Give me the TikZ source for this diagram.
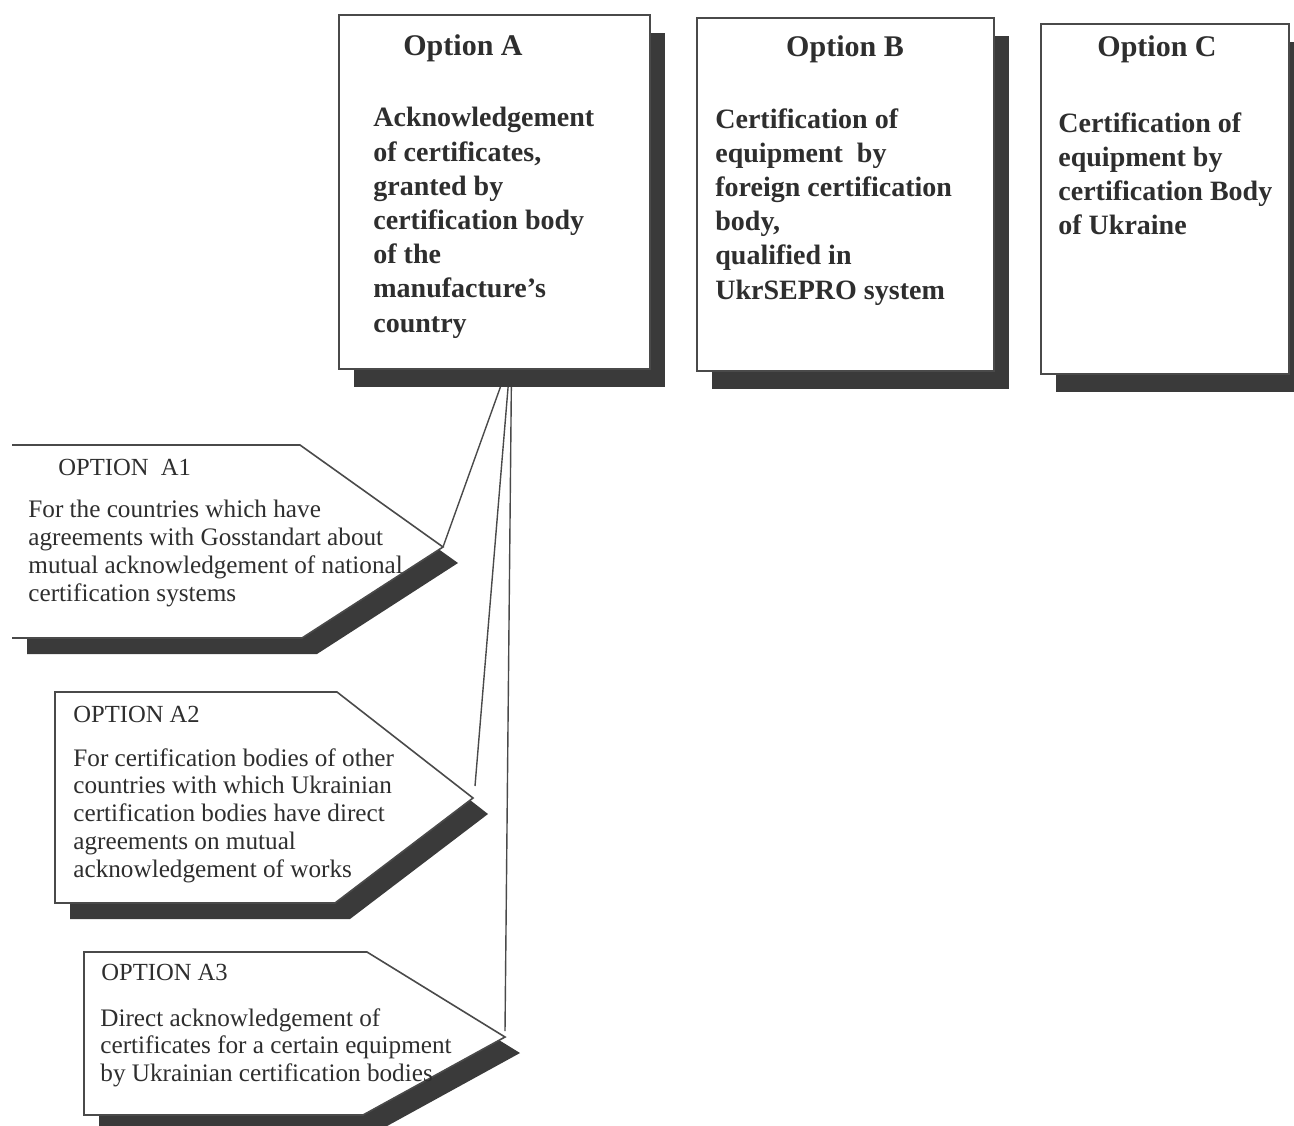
\documentclass[tikz,border=0pt]{standalone}
\usepackage{fontspec}
\setmainfont{Liberation Serif}
\usetikzlibrary{shadows,calc,backgrounds}
\definecolor{ink}{HTML}{2E2E2E}
\definecolor{edge}{HTML}{4A4A4A}
\definecolor{shade}{HTML}{3A3A3A}
\tikzset{
  optbox/.style={draw=edge, line width=1pt, fill=white, anchor=north west, inner sep=0pt},
  boxshadow/.style={drop shadow={shadow xshift=7.5pt, shadow yshift=-9pt, fill=shade, opacity=1}},
  penshadow/.style={drop shadow={shadow xshift=7.5pt, shadow yshift=-8pt, fill=shade, opacity=1}},
  pentedge/.style={draw=edge, line width=0.8pt},
  link/.style={draw=edge, line width=0.7pt},
  boxtitle/.style={text=ink, font=\fontsize{15}{18}\selectfont\bfseries, inner sep=0pt},
  boxbody/.style={text=ink, font=\fontsize{14}{17.1}\selectfont\bfseries, align=left, anchor=north west, inner sep=0pt},
  pentitle/.style={text=ink, font=\fontsize{12.3}{13.8}\selectfont, anchor=west, inner sep=0pt},
  penbody/.style={text=ink, font=\fontsize{12.6}{13.9}\selectfont, align=left, anchor=north west, inner sep=0pt},
}
\begin{document}
\begin{tikzpicture}[x=0.5pt,y=-0.5pt]
\useasboundingbox (0,0) rectangle (1294,1125);

% pentagon tips
\coordinate (a1tip) at (443,547);
\coordinate (a2tip) at (473,798);
\coordinate (a3tip) at (505,1037);

% boxes
\node[optbox, boxshadow, minimum width=155.5pt, minimum height=177pt] (A) at (338,14) {};
\node[optbox, boxshadow, minimum width=148.5pt, minimum height=176.5pt] (B) at (696,17) {};
\node[optbox, boxshadow, minimum width=124pt, minimum height=175pt] (C) at (1040,23) {};

\coordinate (hubA) at ($(A.south)+(12,0)$);
\coordinate (hubB) at ($(A.south)+(15,0)$);
\coordinate (hubC) at ($(A.south)+(17,0)$);

% connectors behind the boxes and their shadows
\begin{scope}[on background layer]
\path[link] (hubA) -- (a1tip);
\path[link] (hubB) -- ($(a2tip)+(2,-12)$);
\path[link] (hubC) -- ($(a3tip)+(0,-6)$);
\end{scope}

\node[boxtitle] (tA) at (463,48) {Option A};
\node[boxtitle] (tB) at (845,49) {Option B};
\node[boxtitle] (tC) at (1157,49) {Option C};

\node[boxbody] (bA) at (373,107) {Acknowledgement\\of certificates,\\granted by\\certification body\\of the\\manufacture’s\\country};
\node[boxbody] (bB) at (715,108) {Certification of\\equipment\ \ by\\foreign certification\\body,\\qualified in\\UkrSEPRO system};
\node[boxbody] (bC) at (1058,112) {Certification of\\equipment by\\certification Body\\of Ukraine};

% pentagon A1 (left edge not shown)
\fill[white, penshadow] (12,445) -- (300,445) -- (a1tip) -- (302,638) -- (12,638) -- cycle;
\path[pentedge] (12,445) -- (300,445) -- (a1tip) -- (302,638) -- (12,638);
% pentagon A2
\path[pentedge, fill=white, penshadow] (55,692) -- (337,692) -- (a2tip) -- (335,903) -- (55,903) -- cycle;
% pentagon A3
\path[pentedge, fill=white, penshadow] (84,952) -- (367,952) -- (a3tip) -- (363,1115) -- (84,1115) -- cycle;

\node[pentitle] (tA1) at (58,467) {OPTION\ \ A1};
\node[penbody] (bA1) at (28,500) {For the countries which have\\agreements with Gosstandart about\\mutual acknowledgement of national\\certification systems};
\node[pentitle] (tA2) at (73,714) {OPTION A2};
\node[penbody] (bA2) at (73,748) {For certification bodies of other\\countries with which Ukrainian\\certification bodies have direct\\agreements on mutual\\acknowledgement of works};
\node[pentitle] (tA3) at (101,972) {OPTION A3};
\node[penbody] (bA3) at (100,1008) {Direct acknowledgement of\\certificates for a certain equipment\\by Ukrainian certification bodies};
\end{tikzpicture}
\end{document}
